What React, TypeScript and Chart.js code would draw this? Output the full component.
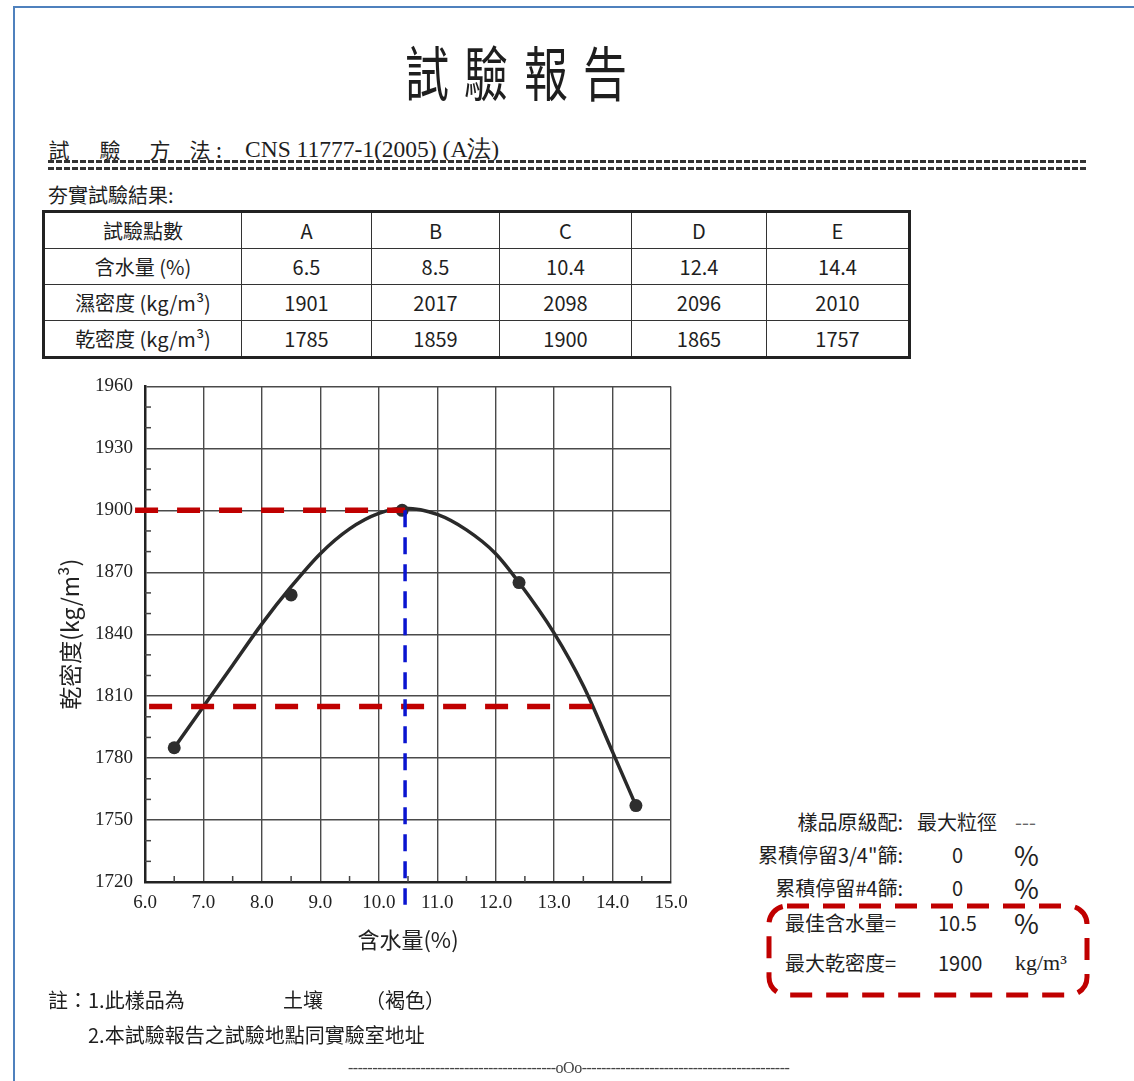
import React, { useEffect, useRef } from "react";
import { Chart, registerables } from "chart.js";
Chart.register(...registerables);

// ---- table data ----
const pointLabels = ["A", "B", "C", "D", "E"];
const moisture = [6.5, 8.5, 10.4, 12.4, 14.4];
const wetDensity = [1901, 2017, 2098, 2096, 2010];
const dryDensity = [1785, 1859, 1900, 1865, 1757];

// ---- fitted compaction curve ----
const curveMoisture = [6.5, 7.0, 7.5, 8.0, 8.5, 9.0, 9.5, 10.0, 10.45, 11.0, 11.5, 12.0, 12.4, 13.0, 13.5, 14.0, 14.4];
const curveDensity = [1785, 1805, 1825, 1845, 1863, 1879, 1891, 1898.5, 1901, 1898, 1890.5, 1879, 1865, 1840.5, 1815, 1783, 1757];

// ---- reference lines ----
const maxDensityLineX = [5.83, 10.45];
const maxDensityLineY = [1900, 1900];
const ninetyFiveLineX = [6.07, 13.7];
const ninetyFiveLineY = [1805, 1805];
const omcLineX = [10.45, 10.45];
const omcLineY = [1900, 1709];

// ---- axes ----
const xMin = 6.0, xMax = 15.0, xStep = 1.0, xMinorStep = 0.5;
const yMin = 1720, yMax = 1960, yStep = 30, yMinorStep = 10;

// ---- texts ----
const titleChars = ["試", "驗", "報", "告"];
const rowHeaders = ["試驗點數", "含水量 (%)", "濕密度 (kg/m³)", "乾密度 (kg/m³)"];
const optimumMoistureText = "10.5";
const maxDryDensityText = "1900";

const CJK = '"Noto Sans CJK TC", "Noto Sans CJK JP", sans-serif';
const SERIF = '"Liberation Serif", "DejaVu Serif", serif';

const minorTicksPlugin = {
  id: "minorTicks",
  beforeDatasetsDraw(chart: any) {
    const { ctx, chartArea, scales } = chart;
    ctx.save();
    ctx.strokeStyle = "#444";
    ctx.lineWidth = 1.5;
    for (let v = yMin + yMinorStep; v < yMax; v += yMinorStep) {
      if ((v - yMin) % yStep === 0) continue;
      const py = scales.y.getPixelForValue(v);
      ctx.beginPath();
      ctx.moveTo(chartArea.left, py);
      ctx.lineTo(chartArea.left + 6, py);
      ctx.stroke();
    }
    for (let v = xMin + xMinorStep; v < xMax; v += xMinorStep) {
      if (Math.abs(v - Math.round(v)) < 1e-6) continue;
      const px = scales.x.getPixelForValue(v);
      ctx.beginPath();
      ctx.moveTo(px, chartArea.bottom);
      ctx.lineTo(px, chartArea.bottom - 6);
      ctx.stroke();
    }
    ctx.restore();
  },
};

function CompactionChart() {
  const ref = useRef<HTMLCanvasElement | null>(null);
  useEffect(() => {
    if (!ref.current) return;
    const toXY = (xs: number[], ys: number[]) => xs.map((x, i) => ({ x, y: ys[i] }));
    const chart = new Chart(ref.current, {
      type: "line",
      data: {
        datasets: [
          {
            label: "OMC",
            data: toXY(omcLineX, omcLineY),
            borderColor: "#0a14d0",
            borderWidth: 3.5,
            borderDash: [17, 10],
            pointRadius: 0,
            clip: false as any,
            tension: 0,
          },
          {
            label: "max",
            data: toXY(maxDensityLineX, maxDensityLineY),
            borderColor: "#c00000",
            borderWidth: 5.5,
            borderDash: [23, 19],
            pointRadius: 0,
            clip: false as any,
            tension: 0,
          },
          {
            label: "95%",
            data: toXY(ninetyFiveLineX, ninetyFiveLineY),
            borderColor: "#c00000",
            borderWidth: 5.5,
            borderDash: [23, 19],
            pointRadius: 0,
            clip: false as any,
            tension: 0,
          },
          {
            label: "points",
            data: toXY(moisture, dryDensity),
            showLine: false,
            pointRadius: 6.5,
            pointBackgroundColor: "#2e2e2e",
            pointBorderColor: "#2e2e2e",
            borderWidth: 0,
          },
          {
            label: "curve",
            data: toXY(curveMoisture, curveDensity),
            borderColor: "#2a2a2a",
            borderWidth: 3.5,
            pointRadius: 0,
            cubicInterpolationMode: "monotone",
          },
        ],
      },
      options: {
        animation: false,
        responsive: false,
        layout: { padding: { left: 0, top: 9, right: 29, bottom: 0 } },
        plugins: { legend: { display: false }, tooltip: { enabled: false } },
        scales: {
          x: {
            type: "linear",
            min: xMin,
            max: xMax,
            afterFit: (s: any) => { s.height = 81; },
            ticks: {
              stepSize: xStep,
              padding: 10,
              color: "#222",
              font: { family: SERIF, size: 19 },
              callback: (v: any) => Number(v).toFixed(1),
            },
            grid: { color: "#4a4a4a", lineWidth: 1.4, drawTicks: false },
            border: { color: "#222", width: 2.5 },
            title: {
              display: true,
              text: "含水量(%)",
              color: "#222",
              font: { family: CJK, size: 22 },
              padding: { top: 0, bottom: 10 },
            },
          },
          y: {
            type: "linear",
            min: yMin,
            max: yMax,
            afterFit: (s: any) => { s.width = 105; },
            ticks: {
              stepSize: yStep,
              padding: 12,
              color: "#222",
              font: { family: SERIF, size: 19 },
              callback: (v: any) => String(v),
            },
            grid: { color: "#4a4a4a", lineWidth: 1.4, drawTicks: false },
            border: { color: "#222", width: 2.5 },
            title: {
              display: true,
              text: "乾密度(kg/m³)",
              color: "#222",
              font: { family: CJK, size: 23 },
              padding: { top: 16, bottom: 0 },
            },
          },
        },
      },
      plugins: [minorTicksPlugin],
    } as any);
    return () => chart.destroy();
  }, []);
  return <canvas ref={ref} width={660} height={600} style={{ width: 660, height: 600, display: "block" }} />;
}

const abs = (left: number, cy: number, size: number, extra: React.CSSProperties = {}): React.CSSProperties => ({
  position: "absolute",
  left,
  top: cy - size * 0.6,
  fontSize: size,
  lineHeight: `${size * 1.2}px`,
  whiteSpace: "nowrap",
  fontFamily: CJK,
  color: "#1e1e1e",
  ...extra,
});

export default function App() {
  useEffect(() => {
    document.body.style.margin = "0";
  }, []);
  const colWidths = [198, 130, 128, 132, 135, 143];
  const rowHeights = [37, 36, 36, 37];
  const cell: React.CSSProperties = {
    border: "1.5px solid #333",
    textAlign: "center",
    padding: 0,
    fontSize: 20,
    fontFamily: CJK,
    color: "#1e1e1e",
  };
  const rows: string[][] = [
    pointLabels,
    moisture.map((m) => m.toFixed(1)),
    wetDensity.map(String),
    dryDensity.map(String),
  ];
  const titleCenters = [427, 486, 546, 605];
  const methodChars = [["試", 59], ["驗", 110], ["方", 160], ["法", 200], [":", 219]] as [string, number][];
  const dashes = "-".repeat(43);
  return (
    <div style={{ position: "relative", width: 1134, height: 1081, background: "#fff", overflow: "hidden" }}>
      {/* blue frame */}
      <div style={{ position: "absolute", left: 13, top: 6, width: 1121, height: 2, background: "#4f81bd" }} />
      <div style={{ position: "absolute", left: 13, top: 6, width: 2, height: 1075, background: "#4f81bd" }} />

      {/* title */}
      {titleChars.map((c, i) => (
        <span key={i} style={abs(titleCenters[i] - 22, 70, 44, { fontWeight: 400, transform: "scaleY(1.35)", width: 44, textAlign: "center" })}>{c}</span>
      ))}

      {/* method */}
      {methodChars.map(([c, x], i) => (
        <span key={i} style={abs(x - 11, 150, 21, { width: 22, textAlign: "center" })}>{c}</span>
      ))}
      <span style={abs(245, 149, 23.5, { fontFamily: SERIF })}>
        CNS 11777-1(2005) (A法)
      </span>
      <div style={{ position: "absolute", left: 48, top: 160, width: 1039, height: 2.5, background: "repeating-linear-gradient(to right, #333 0 6px, transparent 6px 8px)" }} />
      <div style={{ position: "absolute", left: 48, top: 167, width: 1039, height: 2.5, background: "repeating-linear-gradient(to right, #333 0 6px, transparent 6px 8px)" }} />

      <span style={abs(48, 195, 20)}>夯實試驗結果:</span>

      {/* table */}
      <table
        style={{
          position: "absolute",
          left: 42,
          top: 210,
          width: 866,
          height: 146,
          borderCollapse: "collapse",
          border: "3.5px solid #222",
          tableLayout: "fixed",
        }}
      >
        <colgroup>
          {colWidths.map((w, i) => (
            <col key={i} style={{ width: w }} />
          ))}
        </colgroup>
        <tbody>
          {rows.map((r, ri) => (
            <tr key={ri} style={{ height: rowHeights[ri] }}>
              <td style={cell}>{rowHeaders[ri]}</td>
              {r.map((v, ci) => (
                <td key={ci} style={cell}>{v}</td>
              ))}
            </tr>
          ))}
        </tbody>
      </table>

      {/* chart */}
      <div style={{ position: "absolute", left: 40, top: 363, width: 660, height: 600 }}>
        <CompactionChart />
      </div>

      {/* right side summary */}
      <span style={abs(0, 822, 20, { left: "auto", right: 231 })}>樣品原級配:</span>
      <span style={abs(917, 822, 20)}>最大粒徑</span>
      <span style={abs(1015, 822, 20, { color: "#666" })}>---</span>

      <span style={abs(0, 855, 20, { left: "auto", right: 231 })}>累積停留3/4"篩:</span>
      <span style={abs(952, 855, 20)}>0</span>
      <span style={abs(1014, 855, 27)}>%</span>

      <span style={abs(0, 888, 20, { left: "auto", right: 231 })}>累積停留#4篩:</span>
      <span style={abs(952, 888, 20)}>0</span>
      <span style={abs(1014, 888, 27)}>%</span>

      <span style={abs(785, 923, 20)}>最佳含水量=</span>
      <span style={abs(938, 923, 20)}>{optimumMoistureText}</span>
      <span style={abs(1014, 923, 27)}>%</span>

      <span style={abs(785, 963, 20)}>最大乾密度=</span>
      <span style={abs(938, 963, 20)}>{maxDryDensityText}</span>
      <span style={abs(1015, 963, 22, { fontFamily: SERIF })}>kg/m³</span>

      <svg style={{ position: "absolute", left: 0, top: 0 }} width={1134} height={1081}>
        <rect x={769} y={906} width={318} height={89} rx={18} ry={18} fill="none" stroke="#c00000" strokeWidth={5} strokeDasharray="22 14" />
      </svg>

      {/* notes */}
      <span style={abs(48, 1000, 20)}>註：1.此樣品為</span>
      <span style={abs(283, 1000, 20)}>土壤</span>
      <span style={abs(365, 1000, 20)}>（褐色）</span>
      <span style={abs(88, 1035, 20)}>2.本試驗報告之試驗地點同實驗室地址</span>
      <span style={abs(348, 1068, 16, { fontFamily: SERIF, color: "#444", letterSpacing: -0.5 })}>
        {dashes}oOo{dashes}
      </span>
    </div>
  );
}
